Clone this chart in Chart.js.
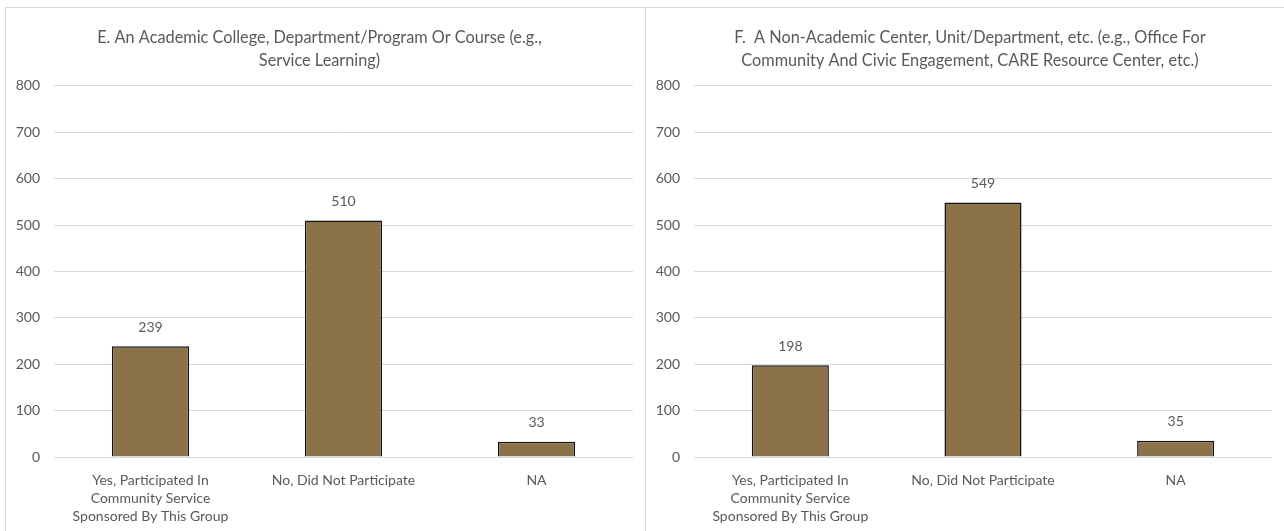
<!DOCTYPE html>
<html>
<head>
<meta charset="utf-8">
<script src="https://cdn.jsdelivr.net/npm/chart.js@4.4.1/dist/chart.umd.min.js"></script>
<style>
  html, body { margin: 0; padding: 0; background: #fff; overflow: hidden; }
  body { width: 1284px; height: 531px; position: relative; }
  .panel { position: absolute; top: 7px; border-top: 1px solid #d9d9d9; border-left: 1px solid #d9d9d9; }
  #left { left: 5px; }
  #right { left: 645px; }
  canvas { display: block; }
</style>
</head>
<body>
<div class="panel" id="left"><canvas id="academicChart" width="639" height="530"></canvas></div>
<div class="panel" id="right"><canvas id="nonAcademicChart" width="650" height="530"></canvas></div>

<script>
// 数据
const categories = [
  ['Yes, Participated In', 'Community Service', 'Sponsored By This Group'],
  'No, Did Not Participate',
  'NA',
]
const academicCounts = [239, 510, 33]
const nonAcademicCounts = [198, 549, 35]
const academicTitle = ['E. An Academic College, Department/Program Or Course (e.g.,', 'Service Learning)']
const nonAcademicTitle = ['F.  A Non-Academic Center, Unit/Department, etc. (e.g., Office For', 'Community And Civic Engagement, CARE Resource Center, etc.)']
const yMax = 800
const yStep = 100

const FONT = 'Lato, "Noto Sans", sans-serif'
const GREY = '#595959'

// 柱顶数值标签
const valueLabels = {
  id: 'valueLabels',
  afterDatasetsDraw(chart) {
    const ctx = chart.ctx
    const meta = chart.getDatasetMeta(0)
    const values = chart.data.datasets[0].data
    ctx.save()
    ctx.font = '14px ' + FONT
    ctx.fillStyle = GREY
    ctx.textAlign = 'center'
    ctx.textBaseline = 'middle'
    meta.data.forEach((bar, i) => {
      ctx.fillText(String(values[i]), bar.x, bar.y - 19)
    })
    ctx.restore()
  },
}

// rightGap: 右侧留白（用一个不显示刻度的右轴占位，标题仍按整个画布居中）
function createChart(canvasId, title, values, padRight, rightGap) {
  const ctx = document.getElementById(canvasId).getContext('2d')
  const scales = {
    x: {
      grid: { display: false, drawTicks: false },
      border: { display: false },
      ticks: {
        color: GREY,
        font: { family: FONT, size: 14, lineHeight: 1.29 },
        padding: 14,
        maxRotation: 0,
        autoSkip: false,
      },
      afterFit(scale) { scale.height = 81 },
    },
    y: {
      min: 0,
      max: yMax,
      grid: { color: '#d9d9d9', lineWidth: 1, drawTicks: false },
      border: { display: false },
      ticks: {
        stepSize: yStep,
        color: GREY,
        font: { family: FONT, size: 14 },
        padding: 14,
      },
      afterFit(scale) { scale.width = 48 },
    },
  }
  if (rightGap) {
    scales.gap = {
      type: 'linear',
      position: 'right',
      grid: { display: false, drawTicks: false },
      border: { display: false },
      ticks: { display: false },
      afterFit(scale) { scale.width = rightGap },
    }
  }
  return new Chart(ctx, {
    type: 'bar',
    data: {
      labels: categories,
      datasets: [
        {
          data: values,
          backgroundColor: '#8b7249',
          borderColor: '#111',
          borderWidth: 1.5,
          borderSkipped: 'bottom',
          barPercentage: 0.4,
          categoryPercentage: 1,
        },
      ],
    },
    options: {
      responsive: false,
      animation: false,
      layout: { padding: { left: 0, right: padRight, top: 0, bottom: 0 } },
      plugins: {
        legend: { display: false },
        tooltip: { enabled: false },
        title: {
          display: true,
          text: title,
          color: GREY,
          font: { family: FONT, size: 16.3, weight: 'normal', lineHeight: 1.41 },
          padding: { top: 18, bottom: 14 },
        },
      },
      scales: scales,
    },
    plugins: [valueLabels],
  })
}

createChart('academicChart', academicTitle, academicCounts, 12, 0)
createChart('nonAcademicChart', nonAcademicTitle, nonAcademicCounts, 2, 22)
</script>
</body>
</html>
